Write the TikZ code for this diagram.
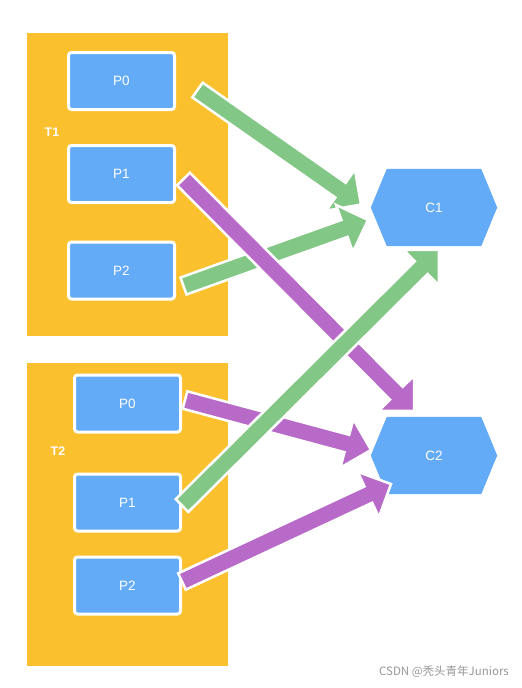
\documentclass[tikz,border=0pt]{standalone}
\usepackage{fontspec}
\setmainfont{Liberation Sans}
\newfontfamily\cjkfont{Noto Sans CJK SC}
\usetikzlibrary{calc}
\pgfdeclarelayer{bg}
\pgfsetlayers{bg,main}
\definecolor{contyellow}{RGB}{251,192,45}
\definecolor{boxblue}{RGB}{99,171,247}
\definecolor{agreen}{RGB}{130,199,133}
\definecolor{apurple}{RGB}{184,106,200}
\definecolor{wmgray}{RGB}{150,150,150}
\newcommand{\fatarrow}[3]{%
  \path[fatarrowstyle,fill=#1]
    ($(#2)!9pt!90:(#3)$) --
    ($(#3)!25pt!(#2)!9pt!90:(#3)$) --
    ($(#3)!25pt!(#2)!25pt!90:(#3)$) --
    (#3) --
    ($(#3)!25pt!(#2)!25pt!-90:(#3)$) --
    ($(#3)!25pt!(#2)!9pt!-90:(#3)$) --
    ($(#2)!9pt!-90:(#3)$) -- cycle;}
\begin{document}
\begin{tikzpicture}[x=1pt,y=-1pt,
  tbox/.style={fill=contyellow,minimum width=201pt,minimum height=303pt,inner sep=0pt},
  pbox/.style={draw=white,line width=3pt,fill=boxblue,rounded corners=3pt,
    minimum width=106pt,minimum height=57pt,inner sep=0pt,text=white,
    font=\fontsize{13.5}{16}\selectfont},
  tlabel/.style={text=white,inner sep=0pt,font=\bfseries\fontsize{12.5}{15}\selectfont},
  hexnode/.style={minimum width=126pt,minimum height=77pt,inner sep=0pt,text=white,
    font=\fontsize{13.5}{16}\selectfont},
  fatarrowstyle/.style={draw=white,line width=2.5pt,line join=miter}]
\useasboundingbox (0,0) rectangle (522,688);
% containers
\node[tbox] (T1) at (127.5,184.5) {};
\node[tbox] (T2) at (127.5,514) {};
\node[tlabel] (T1l) at (52,132) {T1};
\node[tlabel] (T2l) at (58,451) {T2};
% producer boxes
\node[pbox] (a0) at (121.5,81) {P0};
\node[pbox] (a1) at (121.5,174) {P1};
\node[pbox] (a2) at (121.5,270.5) {P2};
\node[pbox] (b0) at (127.5,403.5) {P0};
\node[pbox] (b1) at (127.5,502.5) {P1};
\node[pbox] (b2) at (127.5,585.5) {P2};
% consumers
\node[hexnode] (c1) at (434,207.5) {C1};
\node[hexnode] (c2) at (434,455.5) {C2};
\begin{pgfonlayer}{bg}
\foreach \c in {c1,c2}{
  \fill[boxblue] (\c.west) -- ($(\c.north west)+(16,0)$) -- ($(\c.north east)+(-16,0)$)
    -- (\c.east) -- ($(\c.south east)+(-16,0)$) -- ($(\c.south west)+(16,0)$) -- cycle;}
\end{pgfonlayer}
% arrow end points
\coordinate (s1) at ($(a0.east)+(21.5,9)$);
\coordinate (s2) at ($(a1.east)+(7.5,5)$);
\coordinate (s3) at ($(a2.east)+(7.5,15.5)$);
\coordinate (s4) at ($(b0.east)+(3,-3.5)$);
\coordinate (s5) at ($(b1.east)+(0,3)$);
\coordinate (s6) at ($(b2.east)+(0,-4)$);
\coordinate (t1) at ($(c1)+(-73,-3)$);
\coordinate (t3) at ($(c1)+(-66,12.5)$);
\coordinate (t5) at ($(c1)+(5,42.5)$);
\coordinate (t2) at ($(c2)+(-20,-44.5)$);
\coordinate (t4) at ($(c2)+(-63,-5.5)$);
\coordinate (t6) at ($(c2)+(-43,28.5)$);
% arrows
\fatarrow{agreen}{s1}{t1}
\fatarrow{agreen}{s3}{t3}
\fatarrow{apurple}{s2}{t2}
\fatarrow{apurple}{s4}{t4}
\fatarrow{apurple}{s6}{t6}
\fatarrow{agreen}{s5}{t5}
% watermark
\node[text=wmgray,inner sep=0pt,font=\cjkfont\fontsize{11.5}{14}\selectfont] (wm) at (444,672) {CSDN @秃头青年Juniors};
\end{tikzpicture}
\end{document}
